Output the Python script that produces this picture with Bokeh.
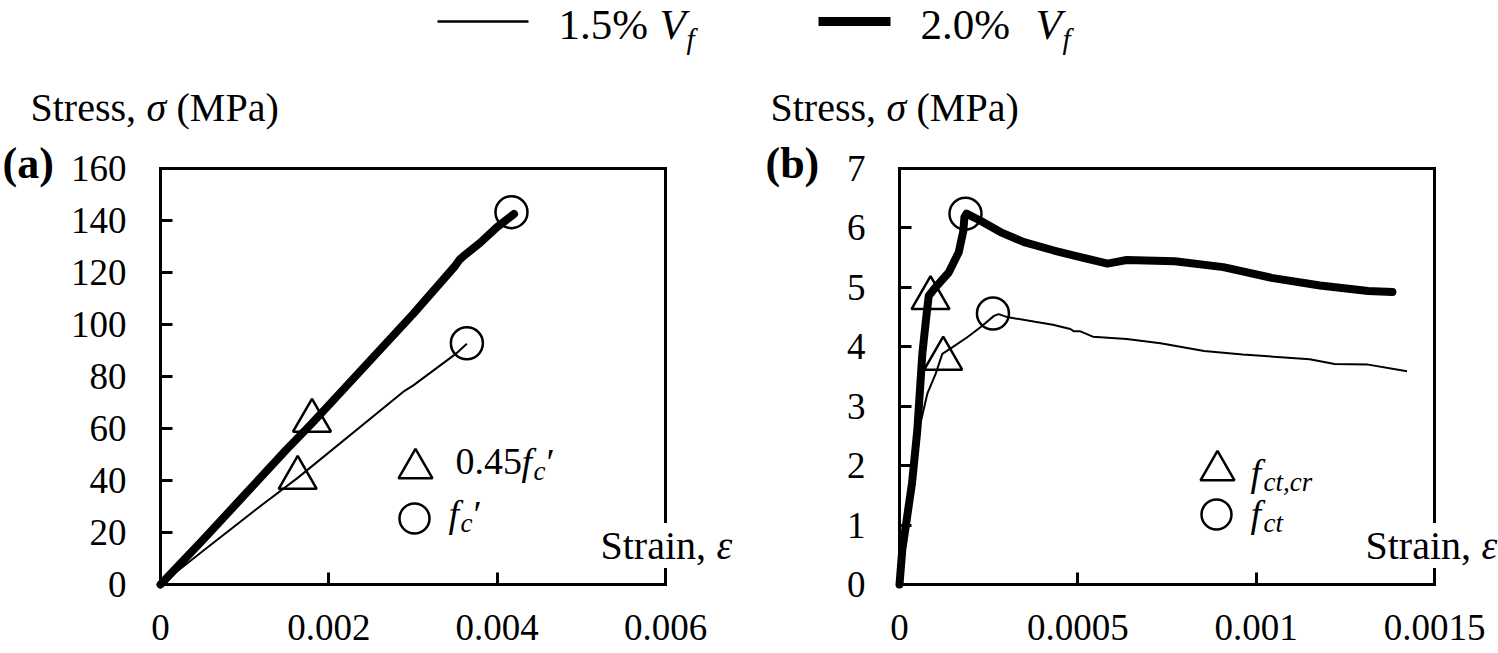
from bokeh.plotting import figure
from bokeh.models import Range1d, LinearAxis, FixedTicker, CustomJSTickFormatter, Label
from bokeh.embed import file_html
from bokeh.resources import INLINE

FONT = "Liberation Serif"

# ---------------- data: panel (a) compression ----------------
a_strain_15 = [0, 0.0005, 0.0012, 0.00163, 0.0029, 0.003, 0.0035, 0.00364]
a_stress_15 = [0, 12.8, 30.5, 41.0, 74.5, 76.5, 88.5, 92.6]
a_strain_20 = [0, 0.0005, 0.001, 0.0015, 0.0018, 0.002, 0.0025, 0.003, 0.0035,
               0.00355, 0.0036, 0.0038, 0.004, 0.0042]
a_stress_20 = [0, 17, 34.5, 52, 62, 69, 86.5, 104, 122.5, 124.8, 126.3, 131.5, 137.5, 142.5]
a_tri_strain = [0.00163, 0.0018]      # 0.45 f'c
a_tri_stress = [41.0, 63.0]
a_cir_strain = [0.00364, 0.00417]     # f'c
a_cir_stress = [92.8, 143.2]
a_xticks = [0, 0.002, 0.004, 0.006]
a_xtick_labels = ["0", "0.002", "0.004", "0.006"]
a_yticks = [0, 20, 40, 60, 80, 100, 120, 140, 160]

# ---------------- data: panel (b) tension ----------------
b_strain_15 = [0, 0.00001, 0.00003, 0.000045, 0.000054, 0.000078, 0.000101, 0.00012,
               0.000148, 0.00019, 0.000227, 0.000265, 0.000278, 0.000302, 0.00038,
               0.00043, 0.000479, 0.000489, 0.000507, 0.000542, 0.000637, 0.000732,
               0.000854, 0.000962, 0.00115, 0.00122, 0.001314, 0.001423]
b_stress_15 = [0, 0.8, 1.6, 2.2, 2.59, 3.21, 3.54, 3.88, 3.99, 4.16, 4.33, 4.52, 4.55,
               4.50, 4.42, 4.37, 4.30, 4.26, 4.26, 4.17, 4.13, 4.06, 3.93, 3.87,
               3.79, 3.71, 3.70, 3.59]
b_strain_20 = [0, 0.000008, 0.000018, 0.000035, 0.000045, 0.00005, 0.000064, 0.000075,
               0.000082, 0.000101, 0.000138, 0.000166, 0.000179, 0.000182, 0.000188,
               0.000227, 0.000283, 0.000349, 0.000433, 0.000507, 0.000583, 0.000637,
               0.000772, 0.000908, 0.001043, 0.001179, 0.001314, 0.001382]
b_stress_20 = [0, 0.6, 1.0, 1.7, 2.3, 2.6, 3.88, 4.5, 4.86, 5.0, 5.25, 5.59, 5.95, 6.18,
               6.24, 6.12, 5.93, 5.76, 5.62, 5.51, 5.40, 5.46, 5.44, 5.34, 5.16, 5.03,
               4.94, 4.92]
b_tri_strain = [0.0001225, 0.000087]  # f_ct,cr
b_tri_stress = [3.80, 4.82]
b_cir_strain = [0.000262, 0.000185]   # f_ct
b_cir_stress = [4.56, 6.24]
b_xticks = [0, 0.0005, 0.001, 0.0015]
b_xtick_labels = ["0", "0.0005", "0.001", "0.0015"]
b_yticks = [0, 1, 2, 3, 4, 5, 6, 7]

series_pct = ["1.5%", "2.0%"]

# ---------------- canvas geometry (pixels) ----------------
W, H = 1498, 653
A_L, A_R, A_T, A_B, A_XMAX, A_YMAX = 160, 665, 168, 584, 0.006, 160
B_L, B_R, B_T, B_B, B_XMAX, B_YMAX = 899, 1434, 168, 584, 0.0015, 7


def xrange_for(L, R, vmax):
    return Range1d(start=(0 - L) / (R - L) * vmax, end=(W - L) / (R - L) * vmax)


def yrange_for(T, B, vmax):
    return Range1d(start=(B - H) / (B - T) * vmax, end=B / (B - T) * vmax)


p = figure(width=W, height=H, x_range=Range1d(0, W), y_range=Range1d(H, 0),
           x_axis_type=None, y_axis_type=None, min_border=0,
           output_backend="svg", toolbar_location=None)
p.outline_line_color = None
p.background_fill_color = "white"
p.border_fill_color = "white"
p.extra_x_ranges = {"ax": xrange_for(A_L, A_R, A_XMAX), "bx": xrange_for(B_L, B_R, B_XMAX)}
p.extra_y_ranges = {"ay": yrange_for(A_T, A_B, A_YMAX), "by": yrange_for(B_T, B_B, B_YMAX)}


def style_axis(ax):
    ax.axis_line_width = 3
    ax.axis_line_color = "black"
    ax.axis_line_cap = "square"
    ax.major_tick_line_width = 3
    ax.major_tick_line_color = "black"
    ax.major_tick_in = 12
    ax.major_tick_out = 0
    ax.minor_tick_line_color = None
    ax.major_label_text_font = FONT
    ax.major_label_text_font_size = "37px"
    ax.major_label_text_color = "black"


def panel_axes(xn, yn, xmax, ymax, xticks, xlabels, yticks):
    xa = LinearAxis(x_range_name=xn, y_range_name=yn, fixed_location=0, bounds=(0, xmax),
                    ticker=FixedTicker(ticks=xticks))
    xa.formatter = CustomJSTickFormatter(
        args=dict(tvals=xticks, tlabs=xlabels),
        code="const i = tvals.indexOf(tick); return i >= 0 ? tlabs[i] : String(tick);")
    ya = LinearAxis(x_range_name=xn, y_range_name=yn, fixed_location=0, bounds=(0, ymax),
                    ticker=FixedTicker(ticks=yticks))
    style_axis(xa)
    style_axis(ya)
    xa.major_label_standoff = 30
    ya.major_label_standoff = 34
    p.add_layout(xa, "below")
    p.add_layout(ya, "left")
    for side, loc, bnd in (("above", ymax, (0, xmax)), ("right", xmax, (0, ymax))):
        fr = LinearAxis(x_range_name=xn, y_range_name=yn, fixed_location=loc, bounds=bnd,
                        ticker=FixedTicker(ticks=[]))
        style_axis(fr)
        fr.major_tick_line_color = None
        fr.major_label_text_font_size = "0px"
        p.add_layout(fr, side)


def txt(x, y, s, size="40px", style="normal", bg=None):
    lab = Label(x=x, y=y, text=s, text_font=FONT, text_font_size=size,
                text_font_style=style, text_color="black",
                text_align="left", text_baseline="alphabetic")
    if bg:
        lab.background_fill_color = bg
        lab.background_fill_alpha = 1.0
    p.add_layout(lab)


def marker(x, y, kind, size):
    p.scatter([x], [y], marker=kind, size=size, fill_color=None,
              line_color="black", line_width=2.5)


# ---------------- panel (a) ----------------
panel_axes("ax", "ay", A_XMAX, A_YMAX, a_xticks, a_xtick_labels, a_yticks)
p.line(a_strain_15, a_stress_15, line_color="black", line_width=2,
       x_range_name="ax", y_range_name="ay")
p.line(a_strain_20, a_stress_20, line_color="black", line_width=8,
       line_join="round", line_cap="round", x_range_name="ax", y_range_name="ay")
p.scatter(a_tri_strain, a_tri_stress, marker="triangle", size=38, fill_color=None,
          line_color="black", line_width=2.5, x_range_name="ax", y_range_name="ay")
p.scatter(a_cir_strain, a_cir_stress, marker="circle", size=32, fill_color=None,
          line_color="black", line_width=2.5, x_range_name="ax", y_range_name="ay")
marker(415, 468, "triangle", 34)
marker(414, 518, "circle", 30)
txt(455, 461, "0.45", "38px")
txt(521, 461, "f", "38px", "italic")
txt(533, 470, "c", "27px", "italic")
txt(546, 461, "′", "38px")
txt(448, 513, "f", "38px", "italic")
txt(460, 522, "c", "27px", "italic")
txt(473, 513, "′", "38px")
txt(30, 107, "Stress,")
txt(146, 107, "σ", style="italic")
txt(176, 107, "(MPa)")
txt(2, 163, "(a)", "44px", "bold")
txt(600, 545, "Strain, ", bg="white")
txt(716, 545, "ε", style="italic")

# ---------------- panel (b) ----------------
panel_axes("bx", "by", B_XMAX, B_YMAX, b_xticks, b_xtick_labels, b_yticks)
p.line(b_strain_15, b_stress_15, line_color="black", line_width=2,
       x_range_name="bx", y_range_name="by")
p.line(b_strain_20, b_stress_20, line_color="black", line_width=8,
       line_join="round", line_cap="round", x_range_name="bx", y_range_name="by")
p.scatter(b_tri_strain, b_tri_stress, marker="triangle", size=38, fill_color=None,
          line_color="black", line_width=2.5, x_range_name="bx", y_range_name="by")
p.scatter(b_cir_strain, b_cir_stress, marker="circle", size=32, fill_color=None,
          line_color="black", line_width=2.5, x_range_name="bx", y_range_name="by")
marker(1217, 470, "triangle", 34)
marker(1216, 514, "circle", 30)
txt(1250, 472, "f", "38px", "italic")
txt(1263, 481, "ct,cr", "27px", "italic")
txt(1250, 513, "f", "38px", "italic")
txt(1263, 522, "ct", "27px", "italic")
txt(770, 107, "Stress,")
txt(886, 107, "σ", style="italic")
txt(916, 107, "(MPa)")
txt(765, 163, "(b)", "44px", "bold")
txt(1365, 545, "Strain, ", bg="white")
txt(1481, 545, "ε", style="italic")

# ---------------- top legend ----------------
p.segment(x0=[437], y0=[21], x1=[528], y1=[21], line_color="black", line_width=2.5)
p.segment(x0=[818], y0=[21], x1=[890], y1=[21], line_color="black", line_width=9)
txt(558, 24, series_pct[0], "43px")
txt(659, 24, "V", "43px", "italic")
txt(686, 38, "f", "29px", "italic")
txt(920, 24, series_pct[1], "43px")
txt(1035, 24, "V", "43px", "italic")
txt(1062, 38, "f", "29px", "italic")

open("out.html", "w").write(file_html(p, INLINE))
